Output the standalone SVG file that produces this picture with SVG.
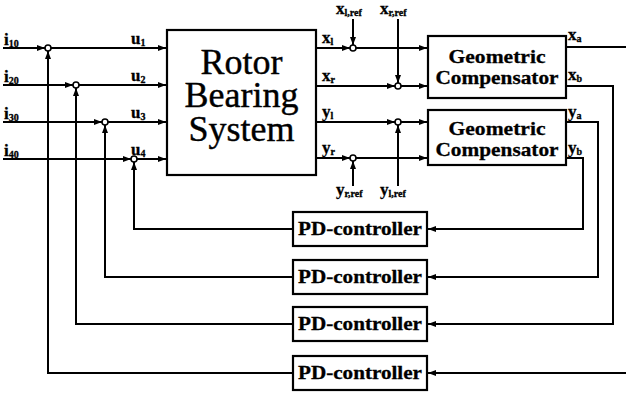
<svg xmlns="http://www.w3.org/2000/svg" width="626" height="393" viewBox="0 0 626 393">
<style>
.ln{fill:none;stroke:#000;stroke-width:2}
.bx{fill:#fff;stroke:#000;stroke-width:2.2}
.jn{fill:#fff;stroke:#000;stroke-width:1.6}
.big{font-size:36px;text-anchor:middle;fill:#000;stroke:#000;stroke-width:0.4}
.bt{font-family:'Liberation Serif',serif;font-weight:bold;font-size:19px;text-anchor:middle;fill:#000;stroke:#000;stroke-width:0.3}
.lbl{font-family:'Liberation Serif',serif;font-weight:bold;font-size:17px;fill:#000;stroke:#000;stroke-width:0.3}
.sub{font-size:10px}
</style>
<defs>
<marker id="ah" markerUnits="userSpaceOnUse" markerWidth="9" markerHeight="7" refX="8" refY="3.5" orient="auto">
<path d="M0,0.5 L8,3.5 L0,6.5 z" fill="#000"/>
</marker>
</defs>

<g id="connectors" class="ln">
<line x1="3" y1="48" x2="45" y2="48" marker-end="url(#ah)"/>
<line x1="51" y1="48" x2="166" y2="48" marker-end="url(#ah)"/>
<line x1="3" y1="85" x2="73" y2="85" marker-end="url(#ah)"/>
<line x1="79" y1="85" x2="166" y2="85" marker-end="url(#ah)"/>
<line x1="3" y1="122" x2="102" y2="122" marker-end="url(#ah)"/>
<line x1="108" y1="122" x2="166" y2="122" marker-end="url(#ah)"/>
<line x1="3" y1="159" x2="131" y2="159" marker-end="url(#ah)"/>
<line x1="137" y1="159" x2="166" y2="159" marker-end="url(#ah)"/>
<polyline points="293,229 134,229 134,162" marker-end="url(#ah)"/>
<polyline points="293,277 105,277 105,125" marker-end="url(#ah)"/>
<polyline points="293,324 76,324 76,88" marker-end="url(#ah)"/>
<polyline points="293,373 48,373 48,51" marker-end="url(#ah)"/>
<line x1="317" y1="48" x2="350" y2="48" marker-end="url(#ah)"/>
<line x1="356" y1="48" x2="427" y2="48" marker-end="url(#ah)"/>
<line x1="317" y1="86" x2="395" y2="86" marker-end="url(#ah)"/>
<line x1="401" y1="86" x2="427" y2="86" marker-end="url(#ah)"/>
<line x1="317" y1="122" x2="395" y2="122" marker-end="url(#ah)"/>
<line x1="401" y1="122" x2="427" y2="122" marker-end="url(#ah)"/>
<line x1="317" y1="158" x2="350" y2="158" marker-end="url(#ah)"/>
<line x1="356" y1="158" x2="427" y2="158" marker-end="url(#ah)"/>
<line x1="353" y1="19" x2="353" y2="45" marker-end="url(#ah)"/>
<line x1="398" y1="19" x2="398" y2="83" marker-end="url(#ah)"/>
<line x1="353" y1="186" x2="353" y2="161" marker-end="url(#ah)"/>
<line x1="398" y1="186" x2="398" y2="125" marker-end="url(#ah)"/>
<line x1="566" y1="47" x2="626" y2="47"/>
<polyline points="566,86 613,86 613,324 428,324" marker-end="url(#ah)"/>
<polyline points="566,122 598,122 598,277 428,277" marker-end="url(#ah)"/>
<polyline points="566,158 583,158 583,229 428,229" marker-end="url(#ah)"/>
<line x1="626" y1="373" x2="428" y2="373" marker-end="url(#ah)"/>
<g class="jn">
<circle cx="48" cy="48" r="3"/>
<circle cx="76" cy="85" r="3"/>
<circle cx="105" cy="122" r="3"/>
<circle cx="134" cy="159" r="3"/>
<circle cx="353" cy="48" r="3"/>
<circle cx="398" cy="86" r="3"/>
<circle cx="398" cy="122" r="3"/>
<circle cx="353" cy="158" r="3"/>
</g>
</g>

<g id="rotor-bearing-system">
<rect class="bx" x="167" y="30" width="149" height="145"/>
<text class="big" font-family="Liberation Serif" x="241.5" y="74">Rotor</text>
<text class="big" font-family="Liberation Serif" x="241.5" y="107">Bearing</text>
<text class="big" font-family="Liberation Serif" x="241.5" y="141">System</text>
</g>

<g id="geometric-compensator-x">
<rect class="bx" x="428" y="36" width="138" height="62"/>
<text class="bt" x="497" y="63" textLength="97" lengthAdjust="spacingAndGlyphs">Geometric</text>
<text class="bt" x="497" y="84" textLength="123" lengthAdjust="spacingAndGlyphs">Compensator</text>
</g>

<g id="geometric-compensator-y">
<rect class="bx" x="428" y="110" width="138" height="55"/>
<text class="bt" x="497" y="135" textLength="97" lengthAdjust="spacingAndGlyphs">Geometric</text>
<text class="bt" x="497" y="156" textLength="123" lengthAdjust="spacingAndGlyphs">Compensator</text>
</g>

<g id="pd-controller-1">
<rect class="bx" x="293" y="212" width="134" height="34"/>
<text class="bt" x="360" y="235" textLength="124" lengthAdjust="spacingAndGlyphs">PD-controller</text>
</g>
<g id="pd-controller-2">
<rect class="bx" x="293" y="260" width="134" height="34"/>
<text class="bt" x="360" y="283" textLength="124" lengthAdjust="spacingAndGlyphs">PD-controller</text>
</g>
<g id="pd-controller-3">
<rect class="bx" x="293" y="307" width="134" height="34"/>
<text class="bt" x="360" y="330" textLength="124" lengthAdjust="spacingAndGlyphs">PD-controller</text>
</g>
<g id="pd-controller-4">
<rect class="bx" x="293" y="356" width="134" height="34"/>
<text class="bt" x="360" y="379" textLength="124" lengthAdjust="spacingAndGlyphs">PD-controller</text>
</g>

<g id="labels">
<text class="lbl" x="4" y="45">i<tspan class="sub" dy="2">10</tspan></text>
<text class="lbl" x="4" y="82">i<tspan class="sub" dy="2">20</tspan></text>
<text class="lbl" x="4" y="119">i<tspan class="sub" dy="2">30</tspan></text>
<text class="lbl" x="4" y="156">i<tspan class="sub" dy="2">40</tspan></text>
<text class="lbl" x="131" y="44">u<tspan class="sub" dy="2">1</tspan></text>
<text class="lbl" x="131" y="81">u<tspan class="sub" dy="2">2</tspan></text>
<text class="lbl" x="131" y="118">u<tspan class="sub" dy="2">3</tspan></text>
<text class="lbl" x="131" y="155">u<tspan class="sub" dy="2">4</tspan></text>
<text class="lbl" x="322" y="43">x<tspan class="sub" dy="2">l</tspan></text>
<text class="lbl" x="322" y="81">x<tspan class="sub" dy="2">r</tspan></text>
<text class="lbl" x="322" y="117">y<tspan class="sub" dy="2">l</tspan></text>
<text class="lbl" x="322" y="153">y<tspan class="sub" dy="2">r</tspan></text>
<text class="lbl" x="336" y="14">x<tspan class="sub" dy="2">l,ref</tspan></text>
<text class="lbl" x="380" y="14">x<tspan class="sub" dy="2">r,ref</tspan></text>
<text class="lbl" x="336" y="195">y<tspan class="sub" dy="2">r,ref</tspan></text>
<text class="lbl" x="380" y="195">y<tspan class="sub" dy="2">l,ref</tspan></text>
<text class="lbl" x="568" y="40">x<tspan class="sub" dy="2">a</tspan></text>
<text class="lbl" x="568" y="80">x<tspan class="sub" dy="2">b</tspan></text>
<text class="lbl" x="568" y="117">y<tspan class="sub" dy="2">a</tspan></text>
<text class="lbl" x="568" y="153">y<tspan class="sub" dy="2">b</tspan></text>
</g>
</svg>
